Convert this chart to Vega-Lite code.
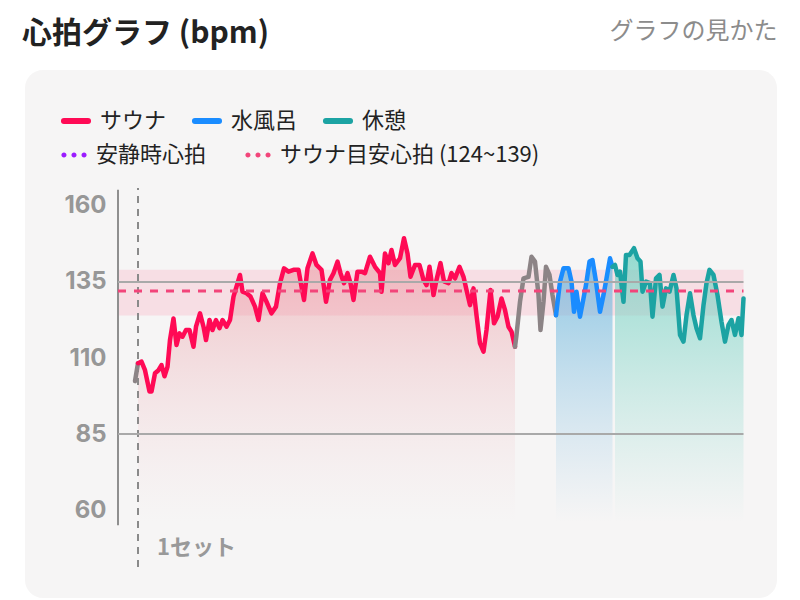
{
  "$schema": "https://vega.github.io/schema/vega-lite/v6.json",
  "width": 752,
  "height": 528,
  "autosize": {"type": "none"},
  "padding": {"left": 25, "top": 70, "right": 23, "bottom": 2},
  "background": "#ffffff",
  "title": {
    "text": "心拍グラフ (bpm)",
    "anchor": "start",
    "font": "Noto Sans CJK JP",
    "fontSize": 30,
    "fontWeight": "bold",
    "color": "#222222",
    "offset": 22,
    "dy": 52,
    "dx": -3
  },
  "datasets": {
    "hr": [
      {"t": -6, "bpm": 102.4, "phase": "移動", "seg": 0},
      {"t": 0, "bpm": 108.3, "phase": "移動", "seg": 0},
      {"t": 0, "bpm": 108.3, "phase": "サウナ", "seg": 1},
      {"t": 7, "bpm": 108.8, "phase": "サウナ", "seg": 1},
      {"t": 14, "bpm": 106, "phase": "サウナ", "seg": 1},
      {"t": 23, "bpm": 99, "phase": "サウナ", "seg": 1},
      {"t": 27, "bpm": 99, "phase": "サウナ", "seg": 1},
      {"t": 34, "bpm": 105, "phase": "サウナ", "seg": 1},
      {"t": 41, "bpm": 106, "phase": "サウナ", "seg": 1},
      {"t": 47, "bpm": 107.7, "phase": "サウナ", "seg": 1},
      {"t": 53, "bpm": 104, "phase": "サウナ", "seg": 1},
      {"t": 59, "bpm": 107.1, "phase": "サウナ", "seg": 1},
      {"t": 64, "bpm": 116, "phase": "サウナ", "seg": 1},
      {"t": 71, "bpm": 123, "phase": "サウナ", "seg": 1},
      {"t": 77, "bpm": 114.3, "phase": "サウナ", "seg": 1},
      {"t": 83, "bpm": 118.1, "phase": "サウナ", "seg": 1},
      {"t": 89, "bpm": 117, "phase": "サウナ", "seg": 1},
      {"t": 96, "bpm": 119.2, "phase": "サウナ", "seg": 1},
      {"t": 103, "bpm": 119.2, "phase": "サウナ", "seg": 1},
      {"t": 111, "bpm": 113.7, "phase": "サウナ", "seg": 1},
      {"t": 116, "bpm": 120.3, "phase": "サウナ", "seg": 1},
      {"t": 124, "bpm": 124.7, "phase": "サウナ", "seg": 1},
      {"t": 131, "bpm": 120.3, "phase": "サウナ", "seg": 1},
      {"t": 136, "bpm": 115.9, "phase": "サウナ", "seg": 1},
      {"t": 143, "bpm": 122.5, "phase": "サウナ", "seg": 1},
      {"t": 149, "bpm": 119.2, "phase": "サウナ", "seg": 1},
      {"t": 156, "bpm": 122.5, "phase": "サウナ", "seg": 1},
      {"t": 163, "bpm": 119.8, "phase": "サウナ", "seg": 1},
      {"t": 169, "bpm": 122.5, "phase": "サウナ", "seg": 1},
      {"t": 177, "bpm": 120.3, "phase": "サウナ", "seg": 1},
      {"t": 184, "bpm": 122.5, "phase": "サウナ", "seg": 1},
      {"t": 191, "bpm": 130.2, "phase": "サウナ", "seg": 1},
      {"t": 197, "bpm": 133.5, "phase": "サウナ", "seg": 1},
      {"t": 204, "bpm": 137.3, "phase": "サウナ", "seg": 1},
      {"t": 209, "bpm": 131.8, "phase": "サウナ", "seg": 1},
      {"t": 217, "bpm": 131.3, "phase": "サウナ", "seg": 1},
      {"t": 225, "bpm": 130.2, "phase": "サウナ", "seg": 1},
      {"t": 234, "bpm": 126.9, "phase": "サウナ", "seg": 1},
      {"t": 241, "bpm": 122.5, "phase": "サウナ", "seg": 1},
      {"t": 249, "bpm": 131.3, "phase": "サウナ", "seg": 1},
      {"t": 257, "bpm": 128.5, "phase": "サウナ", "seg": 1},
      {"t": 267, "bpm": 124.7, "phase": "サウナ", "seg": 1},
      {"t": 276, "bpm": 126.9, "phase": "サウナ", "seg": 1},
      {"t": 284, "bpm": 134.6, "phase": "サウナ", "seg": 1},
      {"t": 292, "bpm": 139.5, "phase": "サウナ", "seg": 1},
      {"t": 301, "bpm": 138.4, "phase": "サウナ", "seg": 1},
      {"t": 311, "bpm": 139, "phase": "サウナ", "seg": 1},
      {"t": 321, "bpm": 139, "phase": "サウナ", "seg": 1},
      {"t": 327, "bpm": 133.5, "phase": "サウナ", "seg": 1},
      {"t": 332, "bpm": 129.1, "phase": "サウナ", "seg": 1},
      {"t": 339, "bpm": 139.5, "phase": "サウナ", "seg": 1},
      {"t": 349, "bpm": 144.4, "phase": "サウナ", "seg": 1},
      {"t": 357, "bpm": 140.6, "phase": "サウナ", "seg": 1},
      {"t": 367, "bpm": 139, "phase": "サウナ", "seg": 1},
      {"t": 376, "bpm": 128.5, "phase": "サウナ", "seg": 1},
      {"t": 384, "bpm": 135.7, "phase": "サウナ", "seg": 1},
      {"t": 391, "bpm": 137.9, "phase": "サウナ", "seg": 1},
      {"t": 399, "bpm": 141.7, "phase": "サウナ", "seg": 1},
      {"t": 405, "bpm": 137.9, "phase": "サウナ", "seg": 1},
      {"t": 412, "bpm": 134.6, "phase": "サウナ", "seg": 1},
      {"t": 419, "bpm": 137.9, "phase": "サウナ", "seg": 1},
      {"t": 425, "bpm": 134.6, "phase": "サウナ", "seg": 1},
      {"t": 431, "bpm": 129.1, "phase": "サウナ", "seg": 1},
      {"t": 439, "bpm": 138.4, "phase": "サウナ", "seg": 1},
      {"t": 447, "bpm": 138.4, "phase": "サウナ", "seg": 1},
      {"t": 454, "bpm": 137.9, "phase": "サウナ", "seg": 1},
      {"t": 464, "bpm": 143.3, "phase": "サウナ", "seg": 1},
      {"t": 474, "bpm": 140, "phase": "サウナ", "seg": 1},
      {"t": 484, "bpm": 137.9, "phase": "サウナ", "seg": 1},
      {"t": 487, "bpm": 131.8, "phase": "サウナ", "seg": 1},
      {"t": 494, "bpm": 144.4, "phase": "サウナ", "seg": 1},
      {"t": 501, "bpm": 141.2, "phase": "サウナ", "seg": 1},
      {"t": 507, "bpm": 145.5, "phase": "サウナ", "seg": 1},
      {"t": 514, "bpm": 140.6, "phase": "サウナ", "seg": 1},
      {"t": 524, "bpm": 142.8, "phase": "サウナ", "seg": 1},
      {"t": 532, "bpm": 149.4, "phase": "サウナ", "seg": 1},
      {"t": 539, "bpm": 144.4, "phase": "サウナ", "seg": 1},
      {"t": 545, "bpm": 136.7, "phase": "サウナ", "seg": 1},
      {"t": 554, "bpm": 140.6, "phase": "サウナ", "seg": 1},
      {"t": 563, "bpm": 140.6, "phase": "サウナ", "seg": 1},
      {"t": 571, "bpm": 135.7, "phase": "サウナ", "seg": 1},
      {"t": 577, "bpm": 134, "phase": "サウナ", "seg": 1},
      {"t": 583, "bpm": 140, "phase": "サウナ", "seg": 1},
      {"t": 591, "bpm": 130.7, "phase": "サウナ", "seg": 1},
      {"t": 597, "bpm": 135.7, "phase": "サウナ", "seg": 1},
      {"t": 605, "bpm": 141.2, "phase": "サウナ", "seg": 1},
      {"t": 612, "bpm": 135.2, "phase": "サウナ", "seg": 1},
      {"t": 621, "bpm": 134.6, "phase": "サウナ", "seg": 1},
      {"t": 627, "bpm": 137.9, "phase": "サウナ", "seg": 1},
      {"t": 634, "bpm": 136.2, "phase": "サウナ", "seg": 1},
      {"t": 643, "bpm": 140, "phase": "サウナ", "seg": 1},
      {"t": 651, "bpm": 136.7, "phase": "サウナ", "seg": 1},
      {"t": 657, "bpm": 132.4, "phase": "サウナ", "seg": 1},
      {"t": 664, "bpm": 127.4, "phase": "サウナ", "seg": 1},
      {"t": 671, "bpm": 132.9, "phase": "サウナ", "seg": 1},
      {"t": 677, "bpm": 124.1, "phase": "サウナ", "seg": 1},
      {"t": 684, "bpm": 114.8, "phase": "サウナ", "seg": 1},
      {"t": 691, "bpm": 112.1, "phase": "サウナ", "seg": 1},
      {"t": 697, "bpm": 119.2, "phase": "サウナ", "seg": 1},
      {"t": 705, "bpm": 132.4, "phase": "サウナ", "seg": 1},
      {"t": 712, "bpm": 121.4, "phase": "サウナ", "seg": 1},
      {"t": 719, "bpm": 123.6, "phase": "サウナ", "seg": 1},
      {"t": 727, "bpm": 129.6, "phase": "サウナ", "seg": 1},
      {"t": 734, "bpm": 125.8, "phase": "サウナ", "seg": 1},
      {"t": 741, "bpm": 120.3, "phase": "サウナ", "seg": 1},
      {"t": 747, "bpm": 118.7, "phase": "サウナ", "seg": 1},
      {"t": 754, "bpm": 113.7, "phase": "サウナ", "seg": 1},
      {"t": 754, "bpm": 113.7, "phase": "移動", "seg": 2},
      {"t": 757, "bpm": 117.6, "phase": "移動", "seg": 2},
      {"t": 764, "bpm": 128.5, "phase": "移動", "seg": 2},
      {"t": 771, "bpm": 136.2, "phase": "移動", "seg": 2},
      {"t": 781, "bpm": 136.7, "phase": "移動", "seg": 2},
      {"t": 787, "bpm": 143.3, "phase": "移動", "seg": 2},
      {"t": 794, "bpm": 141.7, "phase": "移動", "seg": 2},
      {"t": 801, "bpm": 130.7, "phase": "移動", "seg": 2},
      {"t": 805, "bpm": 119.2, "phase": "移動", "seg": 2},
      {"t": 811, "bpm": 128.5, "phase": "移動", "seg": 2},
      {"t": 816, "bpm": 140, "phase": "移動", "seg": 2},
      {"t": 823, "bpm": 137.3, "phase": "移動", "seg": 2},
      {"t": 829, "bpm": 130.7, "phase": "移動", "seg": 2},
      {"t": 836, "bpm": 124.1, "phase": "移動", "seg": 2},
      {"t": 836, "bpm": 124.1, "phase": "水風呂", "seg": 3},
      {"t": 844, "bpm": 135.1, "phase": "水風呂", "seg": 3},
      {"t": 851, "bpm": 139.5, "phase": "水風呂", "seg": 3},
      {"t": 861, "bpm": 139.5, "phase": "水風呂", "seg": 3},
      {"t": 867, "bpm": 135.1, "phase": "水風呂", "seg": 3},
      {"t": 872, "bpm": 125.2, "phase": "水風呂", "seg": 3},
      {"t": 877, "bpm": 131.8, "phase": "水風呂", "seg": 3},
      {"t": 884, "bpm": 123.6, "phase": "水風呂", "seg": 3},
      {"t": 891, "bpm": 129.6, "phase": "水風呂", "seg": 3},
      {"t": 896, "bpm": 134, "phase": "水風呂", "seg": 3},
      {"t": 903, "bpm": 141.7, "phase": "水風呂", "seg": 3},
      {"t": 909, "bpm": 142.2, "phase": "水風呂", "seg": 3},
      {"t": 916, "bpm": 135.1, "phase": "水風呂", "seg": 3},
      {"t": 924, "bpm": 125.2, "phase": "水風呂", "seg": 3},
      {"t": 931, "bpm": 130.7, "phase": "水風呂", "seg": 3},
      {"t": 937, "bpm": 136.2, "phase": "水風呂", "seg": 3},
      {"t": 944, "bpm": 142.8, "phase": "水風呂", "seg": 3},
      {"t": 949, "bpm": 140, "phase": "水風呂", "seg": 3},
      {"t": 949, "bpm": 140, "phase": "休憩", "seg": 4},
      {"t": 954, "bpm": 140.6, "phase": "休憩", "seg": 4},
      {"t": 959, "bpm": 137.3, "phase": "休憩", "seg": 4},
      {"t": 964, "bpm": 138.4, "phase": "休憩", "seg": 4},
      {"t": 971, "bpm": 128.5, "phase": "休憩", "seg": 4},
      {"t": 976, "bpm": 143.9, "phase": "休憩", "seg": 4},
      {"t": 983, "bpm": 143.9, "phase": "休憩", "seg": 4},
      {"t": 992, "bpm": 146.1, "phase": "休憩", "seg": 4},
      {"t": 999, "bpm": 142.8, "phase": "休憩", "seg": 4},
      {"t": 1005, "bpm": 141.7, "phase": "休憩", "seg": 4},
      {"t": 1009, "bpm": 131.8, "phase": "休憩", "seg": 4},
      {"t": 1016, "bpm": 135.1, "phase": "休憩", "seg": 4},
      {"t": 1024, "bpm": 134.6, "phase": "休憩", "seg": 4},
      {"t": 1029, "bpm": 123.6, "phase": "休憩", "seg": 4},
      {"t": 1036, "bpm": 136.2, "phase": "休憩", "seg": 4},
      {"t": 1043, "bpm": 137.3, "phase": "休憩", "seg": 4},
      {"t": 1049, "bpm": 126.9, "phase": "休憩", "seg": 4},
      {"t": 1056, "bpm": 132.9, "phase": "休憩", "seg": 4},
      {"t": 1063, "bpm": 131.8, "phase": "休憩", "seg": 4},
      {"t": 1071, "bpm": 137.3, "phase": "休憩", "seg": 4},
      {"t": 1077, "bpm": 132.9, "phase": "休憩", "seg": 4},
      {"t": 1084, "bpm": 117.6, "phase": "休憩", "seg": 4},
      {"t": 1091, "bpm": 115.4, "phase": "休憩", "seg": 4},
      {"t": 1097, "bpm": 124.1, "phase": "休憩", "seg": 4},
      {"t": 1104, "bpm": 131.3, "phase": "休憩", "seg": 4},
      {"t": 1111, "bpm": 124.1, "phase": "休憩", "seg": 4},
      {"t": 1117, "bpm": 119.8, "phase": "休憩", "seg": 4},
      {"t": 1124, "bpm": 116.5, "phase": "休憩", "seg": 4},
      {"t": 1131, "bpm": 127.4, "phase": "休憩", "seg": 4},
      {"t": 1137, "bpm": 134.6, "phase": "休憩", "seg": 4},
      {"t": 1143, "bpm": 139, "phase": "休憩", "seg": 4},
      {"t": 1151, "bpm": 137.3, "phase": "休憩", "seg": 4},
      {"t": 1159, "bpm": 130.7, "phase": "休憩", "seg": 4},
      {"t": 1167, "bpm": 121.9, "phase": "休憩", "seg": 4},
      {"t": 1174, "bpm": 115.4, "phase": "休憩", "seg": 4},
      {"t": 1181, "bpm": 120.9, "phase": "休憩", "seg": 4},
      {"t": 1187, "bpm": 122.5, "phase": "休憩", "seg": 4},
      {"t": 1194, "bpm": 117.6, "phase": "休憩", "seg": 4},
      {"t": 1201, "bpm": 123.1, "phase": "休憩", "seg": 4},
      {"t": 1207, "bpm": 117.6, "phase": "休憩", "seg": 4},
      {"t": 1211, "bpm": 129.6, "phase": "休憩", "seg": 4}
    ],
    "guides": [
      {"kind": "band", "t": -40, "t2": 1211, "bpm": 124, "bpm2": 139},
      {"kind": "grid", "t": -40, "t2": 1211, "bpm": 135},
      {"kind": "grid", "t": -40, "t2": 1211, "bpm": 85},
      {"kind": "target", "ref": "サウナ目安心拍 (124~139)", "t": -40, "bpm": 132},
      {"kind": "target", "ref": "サウナ目安心拍 (124~139)", "t": 1211, "bpm": 132},
      {"kind": "axis", "t": -40, "bpm": 55, "bpm2": 165.3},
      {"kind": "set", "t": 0, "bpm": 41.3, "bpm2": 165.9},
      {"kind": "label", "t": 38, "bpm": 47.5, "label": "1セット"}
    ]
  },
  "encoding": {
    "x": {
      "field": "t",
      "type": "quantitative",
      "scale": {"domain": [-226, 1278], "nice": false, "zero": false},
      "axis": {
        "orient": "top",
        "title": "グラフの見かた",
        "titleAnchor": "end",
        "titleAlign": "right",
        "titleFont": "Noto Sans CJK JP",
        "titleFontSize": 24,
        "titleFontWeight": "normal",
        "titleColor": "#8c8c8c",
        "titlePadding": 27,
        "labels": false,
        "ticks": false,
        "domain": false,
        "grid": false
      }
    },
    "y": {
      "field": "bpm",
      "type": "quantitative",
      "scale": {"domain": [31.1, 204.7], "nice": false, "zero": false},
      "axis": {
        "values": [60, 85, 110, 135, 160],
        "offset": -93,
        "domain": false,
        "ticks": false,
        "grid": false,
        "title": null,
        "labelFont": "Inter",
        "labelFontSize": 24,
        "labelFontWeight": "bold",
        "labelColor": "#979797",
        "labelPadding": 12
      }
    }
  },
  "layer": [
    {
      "data": {"name": "guides"},
      "transform": [{"filter": "datum.kind === 'band'"}],
      "mark": {"type": "rect", "fill": "#ff5c85", "opacity": 0.15},
      "encoding": {"x2": {"field": "t2"}, "y2": {"field": "bpm2"}}
    },
    {
      "data": {"name": "hr"},
      "transform": [{"filter": "datum.phase === 'サウナ'"}],
      "mark": {
        "type": "area",
        "color": {
          "gradient": "linear", "x1": 0, "y1": 0, "x2": 0, "y2": 1,
          "stops": [
            {"offset": 0, "color": "rgba(232,130,140,0.5)"},
            {"offset": 1, "color": "rgba(240,200,205,0)"}
          ]
        }
      },
      "encoding": {"y2": {"datum": 56}}
    },
    {
      "data": {"name": "hr"},
      "transform": [{"filter": "datum.phase === '水風呂'"}],
      "mark": {
        "type": "area",
        "color": {
          "gradient": "linear", "x1": 0, "y1": 0, "x2": 0, "y2": 1,
          "stops": [
            {"offset": 0, "color": "rgba(100,180,220,0.72)"},
            {"offset": 1, "color": "rgba(150,200,230,0)"}
          ]
        }
      },
      "encoding": {"y2": {"datum": 56}}
    },
    {
      "data": {"name": "hr"},
      "transform": [{"filter": "datum.phase === '休憩' && datum.t > 950"}],
      "mark": {
        "type": "area",
        "color": {
          "gradient": "linear", "x1": 0, "y1": 0, "x2": 0, "y2": 1,
          "stops": [
            {"offset": 0, "color": "rgba(110,208,192,0.72)"},
            {"offset": 1, "color": "rgba(150,220,210,0)"}
          ]
        }
      },
      "encoding": {"y2": {"datum": 56}}
    },
    {
      "data": {"name": "guides"},
      "transform": [{"filter": "datum.kind === 'axis'"}],
      "mark": {"type": "rule", "color": "#8f8f8f", "strokeWidth": 2},
      "encoding": {"y2": {"field": "bpm2"}}
    },
    {
      "data": {"name": "guides"},
      "transform": [{"filter": "datum.kind === 'set'"}],
      "mark": {"type": "rule", "color": "#8a8a8a", "strokeWidth": 2, "strokeDash": [7, 6]},
      "encoding": {"y2": {"field": "bpm2"}}
    },
    {
      "data": {"name": "hr"},
      "mark": {"type": "line", "strokeWidth": 4.5, "strokeJoin": "round", "strokeCap": "round"},
      "encoding": {
        "detail": {"field": "seg", "type": "nominal"},
        "color": {
          "field": "phase",
          "type": "nominal",
          "scale": {"domain": ["サウナ", "水風呂", "休憩", "移動"], "range": ["#ff0a55", "#1a8cff", "#1ca3a3", "#8c8486"]},
          "legend": {
            "title": null,
            "values": ["サウナ", "水風呂", "休憩"],
            "orient": "top-left",
            "direction": "horizontal",
            "offset": 30,
            "padding": 4,
            "symbolType": "M-0.8,-0.07H0.8A0.07,0.07 0 0 1 0.8,0.07H-0.8A0.07,0.07 0 0 1 -0.8,-0.07Z",
            "symbolSize": 900,
            "symbolStrokeWidth": 4,
            "labelFont": "Noto Sans CJK JP",
            "labelFontSize": 22,
            "labelColor": "#222222",
            "labelOffset": 7,
            "columnPadding": 18
          }
        }
      }
    },
    {
      "data": {"name": "guides"},
      "transform": [{"filter": "datum.kind === 'grid'"}],
      "mark": {"type": "rule", "color": "#a9a9a9", "strokeWidth": 2},
      "encoding": {"x2": {"field": "t2"}}
    },
    {
      "data": {"name": "guides"},
      "transform": [{"filter": "datum.kind === 'target'"}],
      "mark": {"type": "line", "stroke": "#f2457a", "strokeWidth": 3, "strokeDash": [8, 8]},
      "encoding": {
        "fill": {
          "field": "ref",
          "type": "nominal",
          "scale": {"domain": ["安静時心拍", "サウナ目安心拍 (124~139)"], "range": ["#9b1cff", "#f2457a"]},
          "legend": {
            "title": null,
            "orient": "top-left",
            "direction": "horizontal",
            "offset": 30,
            "padding": 4,
            "symbolType": "M-0.84,0a0.17,0.17 0 1,0 0.34,0a0.17,0.17 0 1,0 -0.34,0M-0.17,0a0.17,0.17 0 1,0 0.34,0a0.17,0.17 0 1,0 -0.34,0M0.5,0a0.17,0.17 0 1,0 0.34,0a0.17,0.17 0 1,0 -0.34,0",
            "symbolSize": 900,
            "symbolStrokeWidth": 0,
            "symbolStrokeColor": "transparent",
            "symbolOpacity": 1,
            "labelFont": "Noto Sans CJK JP",
            "labelFontSize": 22,
            "labelColor": "#222222",
            "labelOffset": 7,
            "labelLimit": 400,
            "columnPadding": 36
          }
        }
      }
    },
    {
      "data": {"name": "guides"},
      "transform": [{"filter": "datum.kind === 'label'"}],
      "mark": {"type": "text", "align": "left", "baseline": "middle", "font": "Noto Sans CJK JP", "fontSize": 22, "fontWeight": "bold", "color": "#999999"},
      "encoding": {"text": {"field": "label"}}
    }
  ],
  "config": {
    "view": {"fill": "#f6f5f5", "stroke": null, "cornerRadius": 18},
    "legend": {"layout": {"top-left": {"direction": "vertical", "margin": 0}}}
  }
}
